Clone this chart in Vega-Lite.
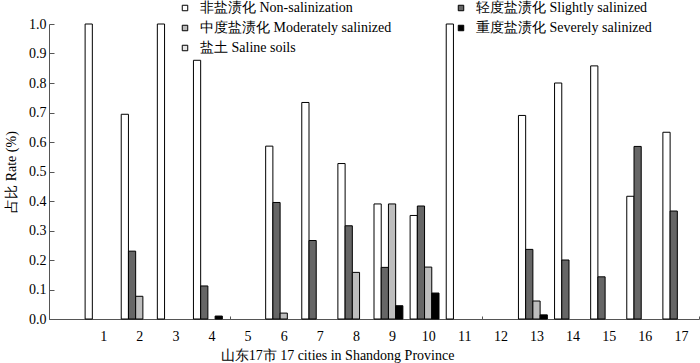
{
  "$schema": "https://vega.github.io/schema/vega-lite/v6.json",
  "width": 650,
  "height": 295,
  "autosize": "none",
  "padding": {"left": 49, "top": 24, "right": 1, "bottom": 44},
  "background": "white",
  "config": {
    "font": "Liberation Serif",
    "view": {"stroke": null},
    "axis": {"labelFont": "Liberation Serif", "titleFont": "Liberation Serif", "labelColor": "black", "titleColor": "black", "titleFontWeight": "normal", "labelFontSize": 14, "titleFontSize": 14, "domainColor": "#555", "tickColor": "#555", "grid": false},
    "legend": {"labelFont": "Liberation Serif", "labelFontSize": 14, "labelColor": "black", "labelLimit": 0}
  },
  "data": {
    "values": [
      {"city": 1, "type": "非盐渍化 Non-salinization", "rate": 1.0},
      {"city": 2, "type": "非盐渍化 Non-salinization", "rate": 0.694},
      {"city": 2, "type": "轻度盐渍化 Slightly salinized", "rate": 0.23},
      {"city": 2, "type": "中度盐渍化 Moderately salinized", "rate": 0.077},
      {"city": 3, "type": "非盐渍化 Non-salinization", "rate": 1.0},
      {"city": 4, "type": "非盐渍化 Non-salinization", "rate": 0.877},
      {"city": 4, "type": "轻度盐渍化 Slightly salinized", "rate": 0.112},
      {"city": 4, "type": "重度盐渍化 Severely salinized", "rate": 0.01},
      {"city": 6, "type": "非盐渍化 Non-salinization", "rate": 0.586},
      {"city": 6, "type": "轻度盐渍化 Slightly salinized", "rate": 0.395},
      {"city": 6, "type": "中度盐渍化 Moderately salinized", "rate": 0.02},
      {"city": 7, "type": "非盐渍化 Non-salinization", "rate": 0.734},
      {"city": 7, "type": "轻度盐渍化 Slightly salinized", "rate": 0.266},
      {"city": 8, "type": "非盐渍化 Non-salinization", "rate": 0.527},
      {"city": 8, "type": "轻度盐渍化 Slightly salinized", "rate": 0.316},
      {"city": 8, "type": "中度盐渍化 Moderately salinized", "rate": 0.158},
      {"city": 9, "type": "非盐渍化 Non-salinization", "rate": 0.39},
      {"city": 9, "type": "轻度盐渍化 Slightly salinized", "rate": 0.175},
      {"city": 9, "type": "中度盐渍化 Moderately salinized", "rate": 0.39},
      {"city": 9, "type": "重度盐渍化 Severely salinized", "rate": 0.045},
      {"city": 10, "type": "非盐渍化 Non-salinization", "rate": 0.351},
      {"city": 10, "type": "轻度盐渍化 Slightly salinized", "rate": 0.383},
      {"city": 10, "type": "中度盐渍化 Moderately salinized", "rate": 0.176},
      {"city": 10, "type": "重度盐渍化 Severely salinized", "rate": 0.088},
      {"city": 11, "type": "非盐渍化 Non-salinization", "rate": 1.0},
      {"city": 13, "type": "非盐渍化 Non-salinization", "rate": 0.69},
      {"city": 13, "type": "轻度盐渍化 Slightly salinized", "rate": 0.236},
      {"city": 13, "type": "中度盐渍化 Moderately salinized", "rate": 0.061},
      {"city": 13, "type": "重度盐渍化 Severely salinized", "rate": 0.014},
      {"city": 14, "type": "非盐渍化 Non-salinization", "rate": 0.8},
      {"city": 14, "type": "轻度盐渍化 Slightly salinized", "rate": 0.2},
      {"city": 15, "type": "非盐渍化 Non-salinization", "rate": 0.858},
      {"city": 15, "type": "轻度盐渍化 Slightly salinized", "rate": 0.143},
      {"city": 16, "type": "非盐渍化 Non-salinization", "rate": 0.416},
      {"city": 16, "type": "轻度盐渍化 Slightly salinized", "rate": 0.585},
      {"city": 17, "type": "非盐渍化 Non-salinization", "rate": 0.633},
      {"city": 17, "type": "轻度盐渍化 Slightly salinized", "rate": 0.366}
    ]
  },
  "mark": {"type": "bar", "stroke": "black", "strokeWidth": 1},
  "encoding": {
    "x": {
      "field": "city", "type": "ordinal",
      "scale": {"domain": [0,1,2,3,4,5,6,7,8,9,10,11,12,13,14,15,16,17], "paddingInner": 0, "paddingOuter": 0},
      "axis": {"title": "山东17市 17 cities in Shandong Province", "labelAngle": 0, "labelExpr": "datum.value == 0 ? '' : datum.label", "tickBand": "extent", "tickSize": -3, "labelPadding": 13, "titleX": 288, "titleY": 36, "titleAlign": "center", "titleBaseline": "middle"}
    },
    "xOffset": {
      "field": "type", "type": "nominal",
      "scale": {"domain": ["非盐渍化 Non-salinization", "轻度盐渍化 Slightly salinized", "中度盐渍化 Moderately salinized", "重度盐渍化 Severely salinized", "盐土 Saline soils"], "paddingInner": 0, "paddingOuter": 0}
    },
    "y": {
      "field": "rate", "type": "quantitative",
      "scale": {"domain": [0, 1], "nice": false},
      "axis": {"title": "占比 Rate (%)", "values": [0,0.1,0.2,0.3,0.4,0.5,0.6,0.7,0.8,0.9,1.0], "format": ".1f", "tickSize": -5, "labelPadding": 8, "titlePadding": 10}
    },
    "fill": {
      "field": "type", "type": "nominal",
      "scale": {"domain": ["非盐渍化 Non-salinization", "中度盐渍化 Moderately salinized", "盐土 Saline soils", "轻度盐渍化 Slightly salinized", "重度盐渍化 Severely salinized"], "range": ["#ffffff", "#bdbdbd", "#e6e6e6", "#666666", "#000000"]},
      "legend": {"title": null, "orient": "none", "legendX": 129, "legendY": -23, "columns": 2, "columnPadding": 62, "rowPadding": 6, "symbolType": "square", "symbolSize": 30, "symbolStrokeColor": "black", "symbolStrokeWidth": 1, "labelOffset": 8}
    }
  }
}
